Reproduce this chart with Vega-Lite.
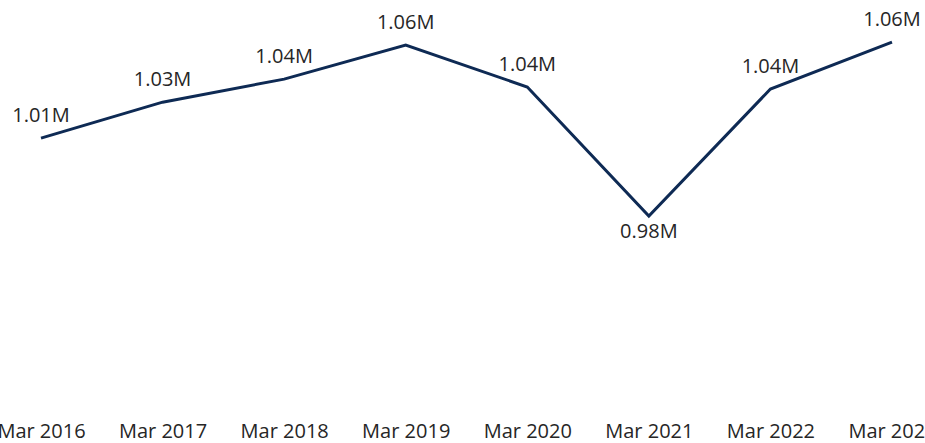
{
  "$schema": "https://vega.github.io/schema/vega-lite/v6.json",
  "width": 851,
  "height": 404,
  "autosize": {"type": "none"},
  "padding": {"left": 41, "top": 6, "right": 33, "bottom": 33},
  "background": "white",
  "config": {"view": {"stroke": null}, "font": "Open Sans"},
  "data": {
    "values": [
      {"period": "Mar 2016", "value": 1014600, "label": "1.01M"},
      {"period": "Mar 2017", "value": 1032400, "label": "1.03M"},
      {"period": "Mar 2018", "value": 1043800, "label": "1.04M"},
      {"period": "Mar 2019", "value": 1060700, "label": "1.06M"},
      {"period": "Mar 2020", "value": 1039900, "label": "1.04M"},
      {"period": "Mar 2021", "value": 976000, "label": "0.98M"},
      {"period": "Mar 2022", "value": 1038900, "label": "1.04M"},
      {"period": "Mar 2023", "value": 1062100, "label": "1.06M"}
    ]
  },
  "encoding": {
    "x": {
      "field": "period",
      "type": "ordinal",
      "sort": null,
      "scale": {"type": "point", "padding": 0},
      "axis": {
        "title": null,
        "ticks": false,
        "tickSize": 0,
        "domain": false,
        "grid": false,
        "labelAngle": 0,
        "labelFontSize": 20,
        "labelFont": "Open Sans",
        "labelColor": "#262626",
        "labelPadding": 27,
        "labelBaseline": "alphabetic",
        "labelOverlap": false
      }
    },
    "y": {
      "field": "value",
      "type": "quantitative",
      "scale": {"domain": [880000, 1080000], "zero": false, "nice": false},
      "axis": null
    }
  },
  "layer": [
    {"mark": {"type": "line", "color": "#0e2a54", "strokeWidth": 3}},
    {
      "transform": [{"filter": "datum.period != 'Mar 2021'"}],
      "mark": {"type": "text", "dy": -16, "baseline": "alphabetic", "fontSize": 20, "color": "#262626", "font": "Open Sans"},
      "encoding": {"text": {"field": "label"}}
    },
    {
      "transform": [{"filter": "datum.period == 'Mar 2021'"}],
      "mark": {"type": "text", "dy": 22, "baseline": "alphabetic", "fontSize": 20, "color": "#262626", "font": "Open Sans"},
      "encoding": {"text": {"field": "label"}}
    }
  ]
}
